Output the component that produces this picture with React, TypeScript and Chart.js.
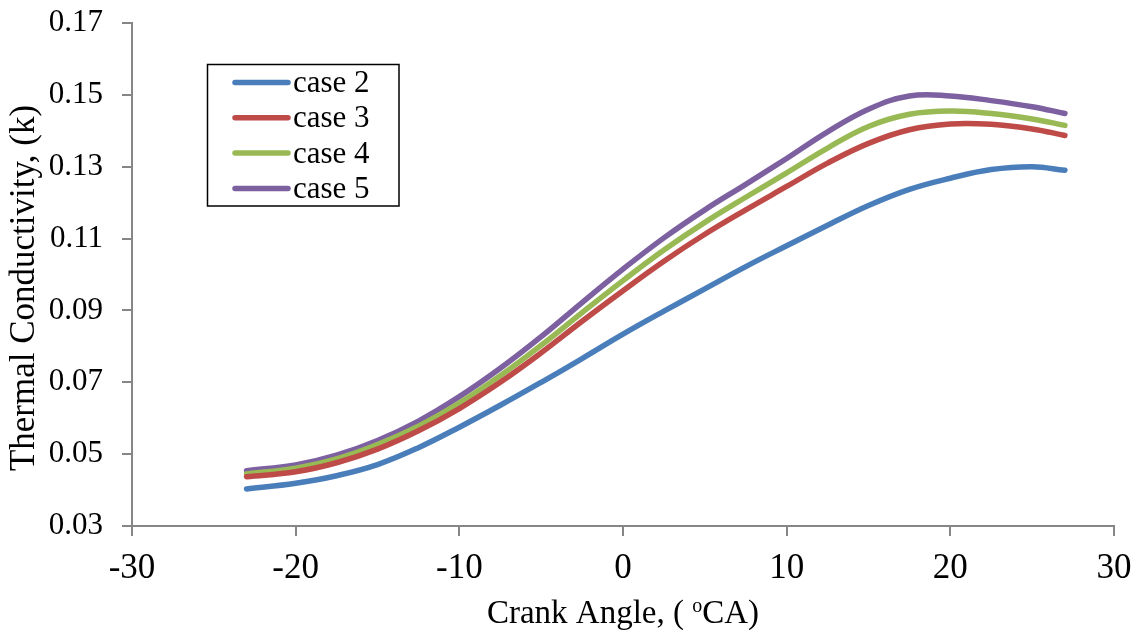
import React, { useEffect, useRef } from "react";
import { Chart, registerables } from "chart.js";

Chart.register(...registerables);

// Crank angle (°CA)
const crankAngles = [-23, -20, -17.5, -15, -12.5, -10, -7.5, -5, -2.5, 0, 2.5, 5, 7.5, 10, 12.5, 15, 17.5, 20, 22.5, 25, 27];

const seriesLabels = ["case 2", "case 3", "case 4", "case 5"];
const case2 = [0.0403, 0.0419, 0.0440, 0.0471, 0.0518, 0.0575, 0.0636, 0.0700, 0.0766, 0.0834, 0.0898, 0.0960, 0.1022, 0.1080, 0.1137, 0.1192, 0.1237, 0.1268, 0.1292, 0.1300, 0.1290];
const case3 = [0.0437, 0.0451, 0.0476, 0.0514, 0.0565, 0.0627, 0.0700, 0.0782, 0.0870, 0.0955, 0.1037, 0.1112, 0.1180, 0.1245, 0.1310, 0.1365, 0.1403, 0.1419, 0.1418, 0.1405, 0.1387];
const case4 = [0.0445, 0.0461, 0.0487, 0.0527, 0.0578, 0.0642, 0.0718, 0.0803, 0.0894, 0.0983, 0.1068, 0.1145, 0.1215, 0.1283, 0.1352, 0.1412, 0.1446, 0.1455, 0.1448, 0.1433, 0.1415];
const case5 = [0.0454, 0.0470, 0.0497, 0.0538, 0.0592, 0.0660, 0.0739, 0.0827, 0.0922, 0.1015, 0.1102, 0.1180, 0.1251, 0.1323, 0.1397, 0.1460, 0.1497, 0.1497, 0.1484, 0.1467, 0.1448];
const seriesColors = ["#4A7EBB", "#BE4B48", "#98B954", "#7D60A0"];

const xTicks = [-30, -20, -10, 0, 10, 20, 30];
const yTicks = [0.03, 0.05, 0.07, 0.09, 0.11, 0.13, 0.15, 0.17];

const yTitle = "Thermal Conductivity, (k)";
const xTitleParts = ["Crank Angle, ( ", "o", "CA)"];

const FONT = "'Liberation Serif', 'Times New Roman', serif";
const AXIS = "#868686";

const textPlugin = {
  id: "boxLegendAndTitles",
  afterDraw(chart: any) {
    const ctx = chart.ctx;
    ctx.save();
    ctx.strokeStyle = "#000";
    ctx.lineWidth = 1.5;
    ctx.strokeRect(207.5, 64.5, 191.5, 141.5);
    chart.data.datasets.forEach((ds: any, i: number) => {
      const y = 82.5 + i * 35.3;
      ctx.beginPath();
      ctx.strokeStyle = ds.borderColor;
      ctx.lineWidth = 5.5;
      ctx.lineCap = "round";
      ctx.moveTo(235, y);
      ctx.lineTo(288, y);
      ctx.stroke();
      ctx.fillStyle = "#000";
      ctx.font = `31px ${FONT}`;
      ctx.textAlign = "left";
      ctx.textBaseline = "alphabetic";
      ctx.fillText(ds.label, 293, y + 9.5);
    });
    // x axis title with superscript o
    const area = chart.chartArea;
    const cx = (area.left + area.right) / 2;
    const cy = 623;
    const big = `33px ${FONT}`;
    const small = `20px ${FONT}`;
    ctx.font = big;
    const w1 = ctx.measureText(xTitleParts[0]).width;
    const w3 = ctx.measureText(xTitleParts[2]).width;
    ctx.font = small;
    const w2 = ctx.measureText(xTitleParts[1]).width;
    let x = cx - (w1 + w2 + w3) / 2;
    ctx.fillStyle = "#000";
    ctx.textAlign = "left";
    ctx.textBaseline = "alphabetic";
    ctx.font = big;
    ctx.fillText(xTitleParts[0], x, cy);
    x += w1;
    ctx.font = small;
    ctx.fillText(xTitleParts[1], x, cy - 11);
    x += w2;
    ctx.font = big;
    ctx.fillText(xTitleParts[2], x, cy);
    // y axis title
    ctx.translate(25, 288);
    ctx.rotate(-Math.PI / 2);
    ctx.font = `35px ${FONT}`;
    ctx.textAlign = "center";
    ctx.textBaseline = "middle";
    ctx.fillText(yTitle, 0, 0);
    ctx.restore();
  },
};

export default function App() {
  const ref = useRef<HTMLCanvasElement | null>(null);

  useEffect(() => {
    document.body.style.margin = "0";
    const canvas = ref.current;
    if (!canvas) return;
    const series = [case2, case3, case4, case5];
    const chart = new Chart(canvas, {
      type: "line",
      data: {
        datasets: series.map((vals, i) => ({
          label: seriesLabels[i],
          data: crankAngles.map((x, j) => ({ x, y: vals[j] })),
          borderColor: seriesColors[i],
          backgroundColor: seriesColors[i],
          borderWidth: 5.5,
          pointRadius: 0,
          tension: 0.4,
          borderCapStyle: "round" as const,
          fill: false,
        })),
      },
      options: {
        responsive: false,
        animation: false,
        layout: { padding: { left: 0, top: 23, right: 31, bottom: 0 } },
        plugins: {
          legend: { display: false },
          tooltip: { enabled: false },
        },
        scales: {
          x: {
            type: "linear",
            min: -30,
            max: 30,
            afterBuildTicks: (scale: any) => {
              scale.ticks = xTicks.map((v) => ({ value: v }));
            },
            afterFit: (scale: any) => {
              scale.height = 108;
              scale.paddingLeft = 0;
              scale.paddingRight = 0;
            },
            ticks: {
              font: { family: FONT, size: 35 },
              color: "#000",
              padding: 12,
              maxRotation: 0,
              callback: (v: any) => String(v),
            },
            grid: {
              drawOnChartArea: false,
              drawTicks: true,
              tickLength: 10,
              color: AXIS,
              lineWidth: 2,
            },
            border: { display: true, color: AXIS, width: 2 },
          },
          y: {
            type: "linear",
            min: 0.03,
            max: 0.17,
            afterBuildTicks: (scale: any) => {
              scale.ticks = yTicks.map((v) => ({ value: v }));
            },
            afterFit: (scale: any) => {
              scale.width = 132;
              scale.paddingTop = 0;
              scale.paddingBottom = 0;
            },
            ticks: {
              font: { family: FONT, size: 31 },
              color: "#000",
              padding: 19,
              callback: (v: any) => Number(v).toFixed(2),
            },
            grid: {
              drawOnChartArea: false,
              drawTicks: true,
              tickLength: 10,
              color: AXIS,
              lineWidth: 2,
            },
            border: { display: true, color: AXIS, width: 2 },
          },
        },
      },
      plugins: [textPlugin],
    });
    return () => chart.destroy();
  }, []);

  return (
    <div style={{ width: 1145, height: 634, background: "#fff" }}>
      <canvas ref={ref} width={1145} height={634} style={{ display: "block" }} />
    </div>
  );
}
